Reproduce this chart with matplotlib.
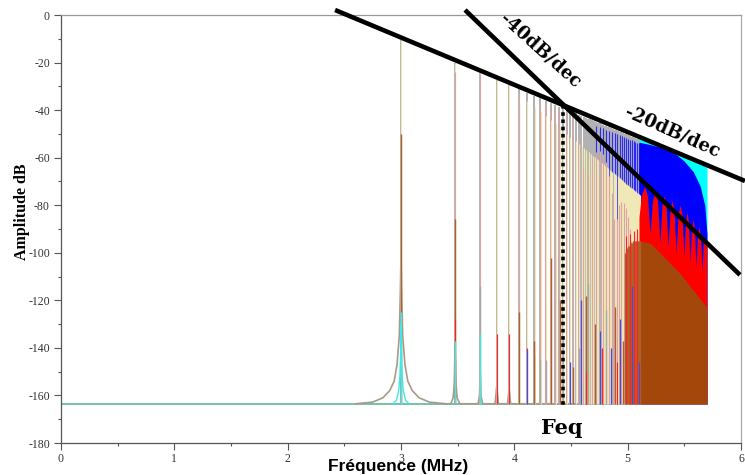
import numpy as np
import matplotlib
matplotlib.use('Agg')
import matplotlib.pyplot as plt
from matplotlib.ticker import FixedLocator, FixedFormatter, NullFormatter

plt.rcParams['axes.unicode_minus'] = False

# ---------------- data ----------------
x_tick_values = [1, 10, 100, 1e3, 1e4, 1e5, 1e6]
x_tick_labels = ['0', '1', '2', '3', '4', '5', '6']
x_minor_ticks = [3.162, 31.62, 316.2, 3162, 31623, 316228]
y_ticks = [-180, -160, -140, -120, -100, -80, -60, -40, -20, 0]
y_tick_labels = ['-180', '-160', '-140', '-120', '-100', '-80', '-60', '-40', '-20', '0']
y_minor_ticks = [-170, -150, -130, -110, -90, -70, -50, -30, -10]

fundamental_hz = 1000.0
noise_floor_db = -163.5
spectrum_end_hz = 501000.0
feq_hz = 27000.0

harmonics = [1, 3, 5, 7, 9, 11, 13, 15, 17, 19, 21, 23, 25, 27, 29, 31, 33, 35, 37, 39,
             41, 43, 45, 47, 49, 51, 53, 55, 57, 59, 61, 63, 65, 67, 69, 71, 73, 75, 77, 79,
             81, 83, 85, 87, 89, 91, 93, 95, 97, 99, 101, 103, 105, 107, 109, 111, 113, 115,
             117, 119, 121, 123, 125, 127]
gray_db = [-10.5, -20.0, -24.5, -27.4, -29.6, -31.3, -32.8, -34.0, -35.1, -36.1, -36.9, -37.7,
           -38.5, -39.1, -39.7, -40.3, -40.9, -41.4, -41.9, -42.3, -42.8, -43.2, -43.6, -43.9,
           -44.3, -44.7, -45.0, -45.3, -45.6, -45.9, -46.2, -46.5, -46.8, -47.0, -47.3, -47.5,
           -47.8, -48.0, -48.2, -48.5, -48.7, -48.9, -49.1, -49.3, -49.5, -49.7, -49.9, -50.1,
           -50.2, -50.4, -50.6, -50.8, -50.9, -51.1, -51.2, -51.4, -51.6, -51.7, -51.9, -52.0,
           -52.2, -52.3, -52.4, -52.6]
yellow_db = [-10.5, -20.0, -24.5, -27.4, -29.6, -33.1, -36.0, -38.5, -40.6, -42.6, -44.3, -45.9,
             -47.3, -48.7, -49.9, -51.1, -52.2, -53.2, -54.2, -55.1, -56.0, -56.8, -57.6, -58.3,
             -59.1, -59.7, -60.4, -61.0, -61.7, -62.3, -62.8, -63.4, -63.9, -64.5, -65.0, -65.5,
             -65.9, -66.4, -66.9, -67.3, -67.8, -68.2, -68.6, -69.0, -69.4, -69.8, -70.2, -70.6,
             -70.9, -71.3, -71.6, -72.0, -72.3, -72.6, -72.9, -73.3, -73.6, -73.9, -74.2, -74.4,
             -74.7, -75.0, -75.3, -75.6]

pink_n = [3, 5, 11, 17, 19, 21, 23, 25, 29, 33, 37, 41, 45, 49, 53, 57, 61, 65, 69, 73, 77,
          81, 85, 89, 93, 97, 101, 105, 109, 113, 117, 121, 125]
pink_db = [-24, -25, -33, -36, -37, -38, -39, -40, -41, -45, -52, -64, -68, -60, -57.5, -57,
           -58.5, -62, -67.5, -75, -86, -86, -80, -78.5, -79, -81, -85, -90, -95, -100, -104,
           -108, -112]

blue_n = [53, 57, 61, 65, 69, 73, 77, 81, 85, 89, 93, 97, 101, 105, 109, 113, 117, 121, 125]
blue_db = [-46.5, -47.1, -47.7, -48.3, -48.8, -49.3, -49.7, -50.2, -50.6, -51.0, -51.4, -51.7,
           -52.1, -52.4, -52.7, -53.1, -53.4, -53.7, -53.9]

gray_low_n = [5, 15, 17, 19, 27, 37, 45, 65]
gray_low_db = [-114, -143, -145, -145, -135, -140, -113, -124]
brown_seg_n = [1, 3, 11, 15, 21, 25, 33, 43, 51, 77, 91, 95, 97, 99, 101, 103, 105, 107, 109,
               111, 113, 115, 117, 119, 121, 123, 125, 127]
brown_seg_db = [-50, -86, -125, -137, -102, -120, -148, -118, -130, -123, -137, -100, -99, -98,
                -97, -97, -96, -96, -96, -95, -95, -95, -95, -95, -95, -95, -95, -95]
red_seg_n = [3, 7, 9, 13, 43, 59, 81, 97, 105, 113, 121]
red_seg_db = [-128, -134, -134, -140, -150, -140, -146, -93, -92, -91, -90]
blue_low_n = [13, 31, 39, 57, 71, 85, 109, 127]
blue_low_db = [-141, -146, -120, -133, -140, -128, -114, -146]
cyan_seg_n = [1, 3, 5]
cyan_seg_db = [-125, -137, -134]

# floor with peak skirts (x given as log10 of frequency, as on the axis)
skirt_logf = [2.60, 2.75, 2.84, 2.90, 2.94, 2.965, 2.985, 2.995, 3.0, 3.005,
              3.015, 3.035, 3.06, 3.10, 3.16, 3.25, 3.40, 3.44, 3.46, 3.47,
              3.477, 3.485, 3.495, 3.52, 3.68, 3.693, 3.699, 3.705, 3.72, 3.83,
              3.845, 3.86, 3.94, 3.954, 3.968, 5.70]
skirt_db = [-163.5, -162.8, -161, -158, -154, -147, -135, -115, -100, -115,
            -135, -147, -154, -158, -161, -162.8, -163.5, -163.5, -161, -155,
            -140, -155, -161, -163.5, -163.5, -160, -150, -160, -163.5, -163.5,
            -156, -163.5, -163.5, -157, -163.5, -163.5]
cyan_skirt_logf = [2.93, 2.96, 2.98, 2.99, 2.997, 3.0, 3.003, 3.01, 3.02, 3.04, 3.07]
cyan_skirt_db = [-163.5, -162, -158, -152, -142, -130, -142, -152, -158, -162, -163.5]

# dense high-frequency envelopes (log10 f, dB)
cyan_env_logf = [5.10, 5.30, 5.50, 5.70]
cyan_env_db = [-52.0, -55.5, -58.8, -62.0]
blue_env_logf = [5.10, 5.20, 5.30, 5.40, 5.50, 5.58, 5.64, 5.68, 5.70]
blue_env_db = [-53.5, -54.5, -55.8, -57.5, -61.5, -66, -72, -80, -92]
red_env_logf = [5.10, 5.12, 5.15, 5.175, 5.197, 5.219, 5.241, 5.263, 5.285, 5.303, 5.321,
                5.339, 5.356, 5.374, 5.391, 5.409, 5.427, 5.445, 5.462, 5.480, 5.497, 5.510,
                5.524, 5.537, 5.550, 5.563, 5.577, 5.590, 5.603, 5.616, 5.630, 5.643, 5.656,
                5.667, 5.678, 5.690, 5.700]
red_env_db = [-85, -76, -72, -76, -92, -78, -74, -78, -96, -80, -76, -80, -98, -82, -78, -82,
              -100, -84, -80, -84, -102, -87, -83, -87, -104, -90, -86, -90, -106, -93, -89,
              -93, -108, -96, -93, -95, -97]
brown_env_logf = [5.10, 5.20, 5.45, 5.70]
brown_env_db = [-95, -96, -108, -123]

# annotation guide lines (frequency in Hz, level in dB)
slope20_hz = [262.0, 1.084e6]
slope20_db = [2.1, -69.8]
slope40_hz = [3673.0, 9.79e5]
slope40_db = [2.1, -109.3]
feq_line_db = [-37.8, -164.0]

# ---------------- figure ----------------
fig = plt.figure(figsize=(7.45, 4.75), dpi=100)
ax = fig.add_axes([61 / 745, 1 - 443 / 475, 680 / 745, 428 / 475])
ax.set_xscale('log')
ax.set_xlim(1, 1e6)
ax.set_ylim(-180, 0)


def hlines_at(n_list, db_list, color, lw, shift=1.0, z=2):
    f = np.asarray(n_list, dtype=float) * fundamental_hz * shift
    ax.vlines(f, noise_floor_db, db_list, colors=color, lw=lw, zorder=z)


def env_fill(logf, db, color, z):
    ax.fill_between(10 ** np.asarray(logf), noise_floor_db, db, color=color, lw=0, zorder=z)


# floor
ax.plot([1, spectrum_end_hz], [noise_floor_db, noise_floor_db], color='#5cb89c', lw=1.2, zorder=1)
ax.plot(10 ** np.asarray(skirt_logf), skirt_db, color='#a89a8a', lw=1.2, zorder=2)

# spectral lines and dense fills
hlines_at(harmonics, gray_db, '#b0b0b0', 1.4, 0.996, 2)
env_fill(cyan_env_logf, cyan_env_db, '#00ffff', 3)
hlines_at(blue_n, blue_db, '#2a2aff', 0.8, 1.0, 4)
env_fill(blue_env_logf, blue_env_db, '#0000ff', 4)
hlines_at(harmonics, yellow_db, '#f1e8b8', 0.9, 1.005, 5)
hlines_at(pink_n, pink_db, '#dca4a4', 0.8, 0.99, 6)
env_fill(red_env_logf, red_env_db, '#ff0000', 7)
env_fill(brown_env_logf, brown_env_db, '#a3470b', 8)
hlines_at(gray_low_n, gray_low_db, '#a8a8a8', 1.0, 1.0, 9)
hlines_at(brown_seg_n, brown_seg_db, '#b0602a', 1.0, 1.004, 10)
hlines_at(red_seg_n, red_seg_db, '#ff2020', 0.8, 1.0, 11)
hlines_at(blue_low_n, blue_low_db, '#4a4ae0', 0.9, 1.0, 12)
hlines_at(cyan_seg_n, cyan_seg_db, '#40e8e8', 1.0, 1.0, 13)
ax.plot(10 ** np.asarray(cyan_skirt_logf), cyan_skirt_db, color='#40e8e8', lw=1.0, zorder=13)

# annotations
ax.plot(slope20_hz, slope20_db, color='black', lw=3.3, clip_on=False, zorder=20,
        solid_capstyle='butt')
ax.plot(slope40_hz, slope40_db, color='black', lw=3.3, clip_on=False, zorder=20,
        solid_capstyle='butt')
ax.plot([feq_hz, feq_hz], feq_line_db, color='black', lw=2.6, linestyle=(0, (1, 1)), zorder=21)
ax.text(16870, -14.7, '-40dB/dec', rotation=-42, ha='center', va='center',
        fontsize=13, fontweight='bold', family='DejaVu Serif', zorder=22, rotation_mode='anchor')
ax.text(246000, -49.2, '-20dB/dec', rotation=-24, ha='center', va='center',
        fontsize=13, fontweight='bold', family='DejaVu Serif', zorder=22, rotation_mode='anchor')
ax.text(26300, -173.7, 'Feq', ha='center', va='center', fontsize=15, fontweight='bold',
        family='DejaVu Serif', zorder=22)

# axes styling
ax.xaxis.set_major_locator(FixedLocator(x_tick_values))
ax.xaxis.set_major_formatter(FixedFormatter(x_tick_labels))
ax.xaxis.set_minor_locator(FixedLocator(x_minor_ticks))
ax.xaxis.set_minor_formatter(NullFormatter())
ax.yaxis.set_major_locator(FixedLocator(y_ticks))
ax.yaxis.set_major_formatter(FixedFormatter(y_tick_labels))
ax.yaxis.set_minor_locator(FixedLocator(y_minor_ticks))

ax.tick_params(which='major', direction='out', length=5, width=0.8, color='#555555',
               labelsize=8.5, labelcolor='#333333')
ax.tick_params(axis='y', which='major', pad=3)
ax.tick_params(axis='x', which='major', pad=2.5)
ax.tick_params(which='minor', direction='out', length=2.2, width=0.8, color='#555555')
for lab in ax.get_xticklabels() + ax.get_yticklabels():
    lab.set_family('Liberation Serif')

ax.spines['left'].set_color('#555555')
ax.spines['bottom'].set_color('#555555')
ax.spines['top'].set_color('#999999')
ax.spines['right'].set_color('#aaaaaa')
for s in ax.spines.values():
    s.set_linewidth(0.9)

fig.text(22 / 745, 1 - 212 / 475, 'Amplitude dB', rotation=90, ha='center', va='center',
         fontsize=11.5, fontweight='bold', family='Liberation Serif')
fig.text(398 / 745, 1 - 467 / 475, 'Fréquence (MHz)', ha='center', va='center',
         fontsize=12.5, fontweight='bold', family='Liberation Sans', zorder=30)

fig.savefig('out.png', dpi=100)
